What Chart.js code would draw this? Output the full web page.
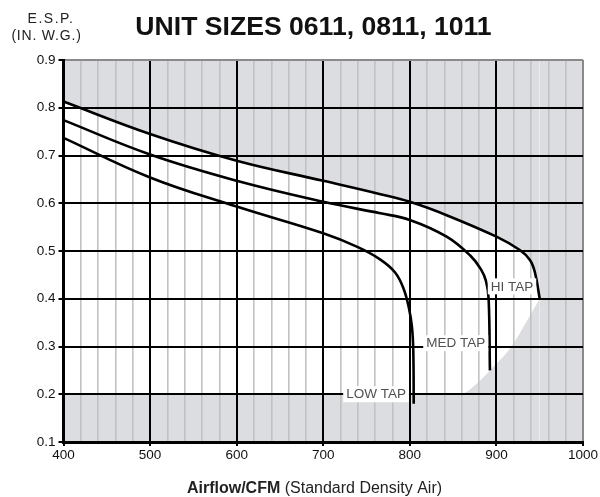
<!DOCTYPE html>
<html>
<head>
<meta charset="utf-8">
<script src="https://cdn.jsdelivr.net/npm/chart.js@4"></script>
<style>
  html, body { margin: 0; padding: 0; background: #fff; }
  #wrap { width: 600px; height: 497px; }
</style>
</head>
<body>
<div id="wrap"><canvas id="fanChart" width="600" height="497"></canvas></div>
<script>
// Krzywe wentylatora (CFM -> E.S.P.)
const hiTapCfm = [400, 500, 600, 700, 766, 800, 842.5, 900, 927, 938.7, 944.5, 950];
const hiTapEsp = [0.813, 0.745, 0.689, 0.647, 0.619, 0.603, 0.575, 0.530, 0.502, 0.481, 0.455, 0.400];

const medTapCfm = [400, 500, 600, 700, 766, 800, 842.5, 870, 882, 888, 891, 892.5];
const medTapEsp = [0.774, 0.702, 0.647, 0.603, 0.579, 0.565, 0.530, 0.490, 0.462, 0.437, 0.400, 0.250];

const lowTapCfm = [400, 500, 600, 700, 740, 766, 783, 793, 799, 802.5, 804, 804.5];
const lowTapEsp = [0.737, 0.654, 0.593, 0.537, 0.508, 0.482, 0.455, 0.420, 0.380, 0.340, 0.290, 0.180];

// Dolna granica obszaru pracy (biały obszar)
const envelopeCfm = [400, 858, 877, 892.5, 917.5, 935.6, 950];
const envelopeEsp = [0.2, 0.2, 0.222, 0.25, 0.3, 0.355, 0.4];
const edgeCfm = [950, 1000];
const edgeEsp = [0.9, 0.9];

// Etykiety krzywych
const tapNames = ['HI TAP', 'MED TAP', 'LOW TAP'];
const tapLabelCfm = [918, 853, 761];
const tapLabelEsp = [0.426, 0.307, 0.2];

const FONT = "'Liberation Sans', Arial, sans-serif";
const GREY = '#dcdde0';

function toPoints(xs, ys) {
    return xs.map((x, i) => ({ x: x, y: ys[i] }));
}

function curve(xs, ys) {
    return {
        data: toPoints(xs, ys),
        showLine: true,
        borderColor: '#000',
        borderWidth: 2.6,
        pointRadius: 0,
        tension: 0.4,
        fill: false
    };
}

function greyArea(xs, ys, fill, smooth) {
    const ds = {
        data: toPoints(xs, ys),
        showLine: true,
        borderColor: 'rgba(0,0,0,0)',
        borderWidth: 0,
        pointRadius: 0,
        backgroundColor: GREY,
        fill: fill
    };
    if (smooth === 'monotone') ds.cubicInterpolationMode = 'monotone';
    else ds.tension = 0.4;
    return ds;
}

// Teksty: tytuł, opis osi, etykiety krzywych
const textPlugin = {
    id: 'texts',
    afterDatasetsDraw(chart) {
        const ctx = chart.ctx;
        const xs = chart.scales.x, ys = chart.scales.y;
        ctx.save();
        ctx.font = '13.5px ' + FONT;
        ctx.textBaseline = 'middle';
        ctx.textAlign = 'center';
        tapNames.forEach((name, i) => {
            const px = xs.getPixelForValue(tapLabelCfm[i]);
            const py = ys.getPixelForValue(tapLabelEsp[i]);
            const w = ctx.measureText(name).width + 6;
            ctx.fillStyle = '#fff';
            ctx.fillRect(px - w / 2, py - 8, w, 16);
            ctx.fillStyle = '#505050';
            ctx.fillText(name, px, py + 0.5);
        });
        ctx.restore();
    },
    afterDraw(chart) {
        const ctx = chart.ctx;
        ctx.save();
        ctx.textBaseline = 'alphabetic';
        ctx.fillStyle = '#111';
        ctx.textAlign = 'center';
        ctx.font = 'bold 26.6px ' + FONT;
        ctx.fillText('UNIT SIZES 0611, 0811, 1011', 313.5, 34.5);

        ctx.fillStyle = '#222';
        ctx.font = '14px ' + FONT;
        ctx.letterSpacing = '1.5px';
        ctx.fillText('E.S.P.', 51, 22.5);
        ctx.letterSpacing = '0.8px';
        ctx.fillText('(IN. W.G.)', 46.5, 39.5);
        ctx.letterSpacing = '0px';

        // Opis osi X: część pogrubiona + zwykła
        const boldPart = 'Airflow/CFM';
        const normalPart = ' (Standard Density Air)';
        ctx.font = 'bold 16px ' + FONT;
        const w1 = ctx.measureText(boldPart).width;
        ctx.font = '16px ' + FONT;
        const w2 = ctx.measureText(normalPart).width;
        const start = 314.5 - (w1 + w2) / 2;
        ctx.textAlign = 'left';
        ctx.font = 'bold 16px ' + FONT;
        ctx.fillText(boldPart, start, 493);
        ctx.font = '16px ' + FONT;
        ctx.fillText(normalPart, start + w1, 493);
        ctx.restore();
    }
};

const ctx = document.getElementById('fanChart').getContext('2d');
new Chart(ctx, {
    type: 'scatter',
    data: {
        datasets: [
            greyArea(hiTapCfm, hiTapEsp, 'end'),
            greyArea(envelopeCfm, envelopeEsp, 'start', 'monotone'),
            greyArea(edgeCfm, edgeEsp, 'start', 'monotone'),
            curve(hiTapCfm, hiTapEsp),
            curve(medTapCfm, medTapEsp),
            curve(lowTapCfm, lowTapEsp)
        ]
    },
    options: {
        responsive: false,
        animation: false,
        events: [],
        layout: { padding: { top: 60, right: 17, left: 0, bottom: 0 } },
        plugins: {
            legend: { display: false },
            tooltip: { enabled: false },
            filler: { drawTime: 'beforeDraw' } // szare tło pod siatką
        },
        scales: {
            x: {
                type: 'linear',
                min: 400,
                max: 1000,
                afterFit: function (scale) { scale.height = 55; },
                ticks: {
                    stepSize: 20,
                    autoSkip: false,
                    maxRotation: 0,
                    padding: 1,
                    color: '#111',
                    font: { family: FONT, size: 13.5 },
                    callback: function (value) {
                        return value % 100 === 0 ? String(value) : '';
                    }
                },
                grid: {
                    color: function (c) {
                        const v = c.tick.value;
                        if (v === 1000) return '#8a8a8a';
                        return v % 100 === 0 ? '#000' : '#c2c2c2';
                    },
                    lineWidth: function (c) {
                        return c.tick.value % 100 === 0 ? 2 : 1.6;
                    },
                    tickLength: 4,
                    tickColor: function (c) {
                        return c.tick.value % 100 === 0 ? '#000' : 'rgba(0,0,0,0)';
                    }
                },
                border: { color: '#000', width: 3 }
            },
            y: {
                type: 'linear',
                min: 0.1,
                max: 0.9,
                afterFit: function (scale) { scale.width = 63.5; },
                ticks: {
                    stepSize: 0.1,
                    padding: 3,
                    color: '#111',
                    font: { family: FONT, size: 13.5 },
                    callback: function (value) {
                        return Number(value).toFixed(1);
                    }
                },
                grid: {
                    color: function (c) {
                        return Math.abs(c.tick.value - 0.9) < 1e-6 ? '#8a8a8a' : '#000';
                    },
                    lineWidth: 2,
                    tickLength: 5,
                    tickColor: '#000'
                },
                border: { color: '#000', width: 3 }
            }
        }
    },
    plugins: [textPlugin]
});
</script>
</body>
</html>
